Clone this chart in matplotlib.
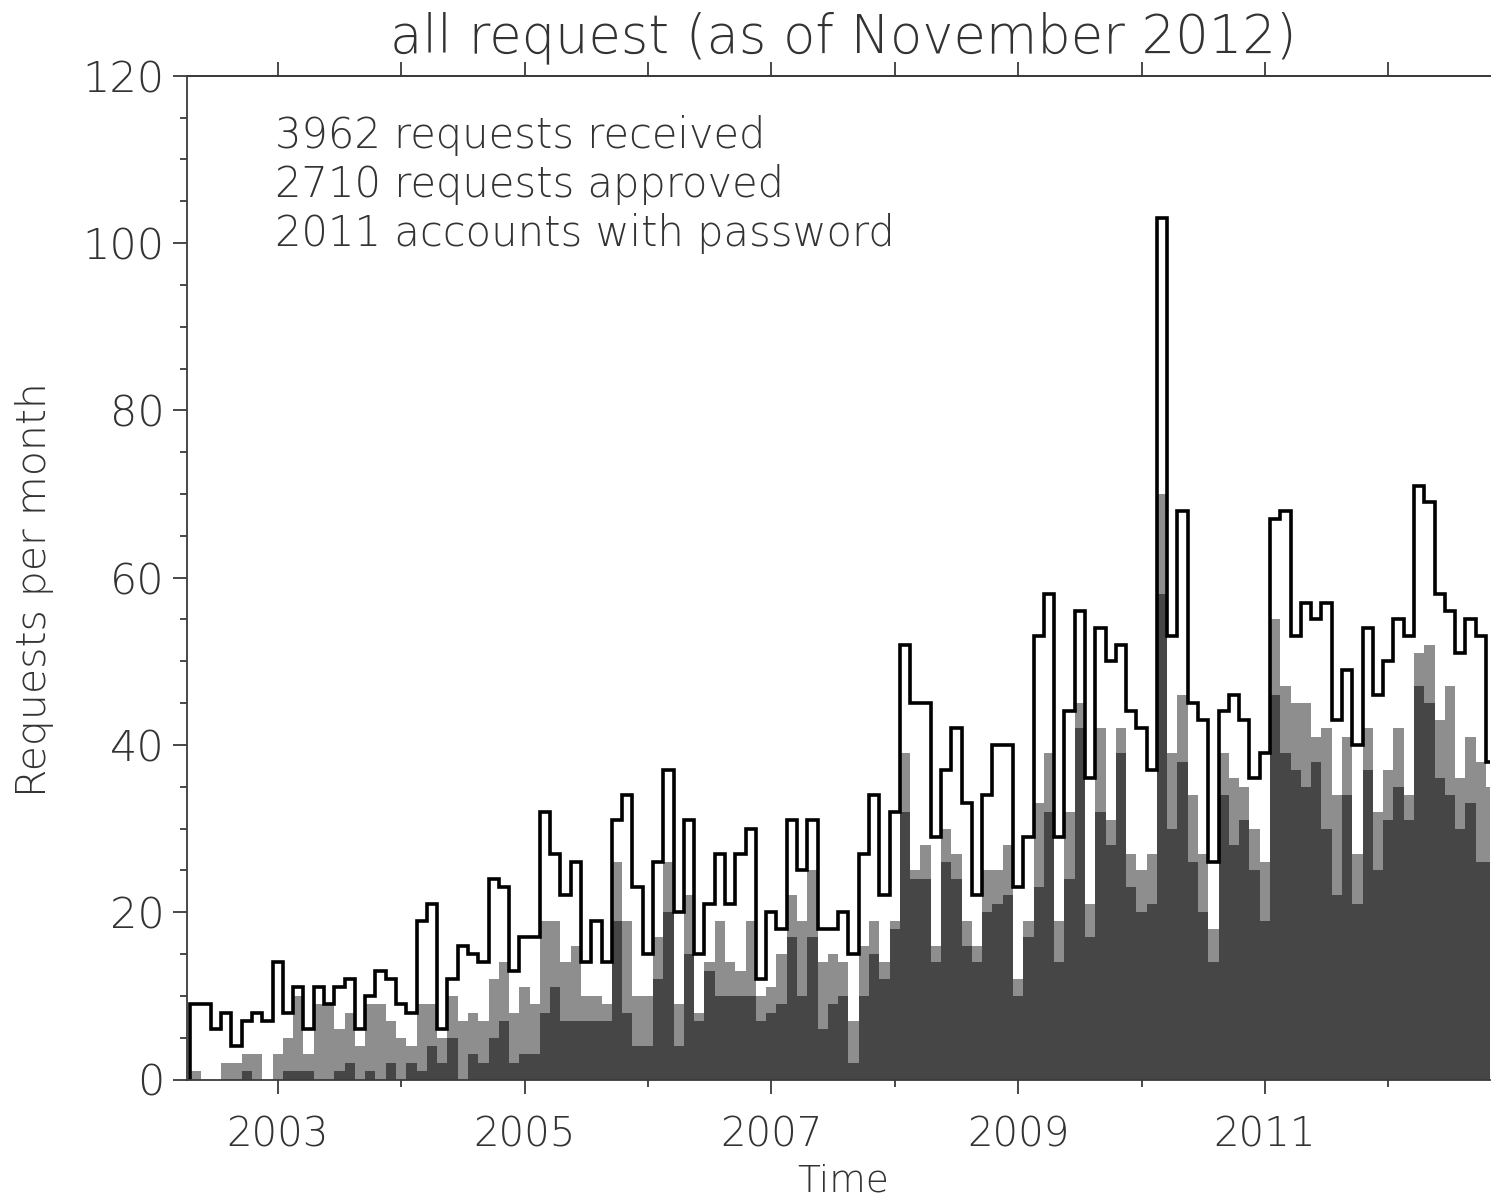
import numpy as np
import matplotlib
matplotlib.use("Agg")
import matplotlib.pyplot as plt
from matplotlib.ticker import FixedLocator, MultipleLocator, NullFormatter

# Monthly counts, May 2002 .. November 2012
start_year, start_month = 2002, 5

received = [9, 9, 6, 8, 4, 7, 8, 7,
            14, 8, 11, 6, 11, 9, 11, 12, 6, 10, 13, 12,
            9, 8, 19, 21, 6, 12, 16, 15, 14, 24, 23, 13,
            17, 17, 32, 27, 22, 26, 14, 19, 14, 31, 34, 23,
            15, 26, 37, 20, 31, 15, 21, 27, 21, 27, 30, 12,
            20, 18, 31, 25, 31, 18, 18, 20, 15, 27, 34, 22,
            32, 52, 45, 45, 29, 37, 42, 33, 22, 34, 40, 40,
            23, 29, 53, 58, 29, 44, 56, 36, 54, 50, 52, 44,
            42, 37, 103, 53, 68, 45, 43, 26, 44, 46, 43, 36,
            39, 67, 68, 53, 57, 55, 57, 43, 49, 40, 54, 46,
            50, 55, 53, 71, 69, 58, 56, 51, 55, 53, 38]

approved = [1, 0, 0, 2, 2, 3, 3, 0,
            3, 5, 10, 3, 9, 9, 6, 8, 4, 9, 9, 7,
            5, 4, 9, 9, 5, 10, 7, 8, 7, 12, 14, 8,
            11, 9, 19, 19, 14, 16, 10, 10, 9, 26, 19, 10,
            10, 17, 26, 9, 22, 8, 14, 19, 14, 13, 19, 10,
            11, 15, 22, 19, 25, 14, 15, 14, 7, 16, 19, 14,
            19, 39, 25, 28, 16, 30, 27, 19, 16, 25, 25, 28,
            12, 19, 33, 39, 19, 32, 45, 21, 42, 31, 42, 27,
            25, 27, 70, 39, 46, 34, 27, 18, 39, 36, 35, 30,
            26, 55, 47, 45, 45, 41, 42, 34, 41, 27, 42, 32,
            37, 42, 34, 51, 52, 43, 47, 36, 41, 38, 35]

password = [0, 0, 0, 0, 0, 1, 0, 0,
            0, 1, 1, 1, 0, 0, 1, 2, 0, 1, 0, 2,
            0, 2, 1, 4, 2, 5, 0, 3, 2, 5, 7, 2,
            3, 3, 8, 11, 7, 7, 7, 7, 7, 19, 8, 4,
            4, 12, 20, 4, 15, 7, 13, 10, 10, 10, 10, 7,
            8, 9, 17, 10, 17, 6, 9, 10, 2, 10, 15, 12,
            18, 32, 24, 24, 14, 26, 24, 16, 14, 20, 21, 22,
            10, 17, 23, 32, 14, 24, 42, 17, 32, 28, 39, 23,
            20, 21, 58, 30, 38, 26, 20, 14, 34, 28, 31, 25,
            19, 46, 39, 37, 35, 38, 30, 22, 34, 21, 37, 25,
            31, 35, 31, 47, 45, 36, 34, 30, 33, 26, 26]

summary_lines = ["3962 requests received",
                 "2710 requests approved",
                 "2011 accounts with password"]
title_text = "all request (as of November 2012)"
major_years = [2003, 2005, 2007, 2009, 2011]
minor_years = [2004, 2006, 2008, 2010, 2012]

# bins are one month wide, centred on the first day of each month
n = len(received)
centers = start_year + (start_month - 1) / 12.0 + np.arange(n) / 12.0
edges = np.append(centers - 1 / 24.0, centers[-1] + 1 / 24.0)

W, H = 1492, 1197
plt.rcParams['font.family'] = ['DejaVu Sans']
plt.rcParams['font.weight'] = 'light'
fig = plt.figure(figsize=(W / 100, H / 100), dpi=100)
txt_color = '#333333'
axis_color = '#3a3a3a'

x0, x1 = 187, 1490
ytop, ybot = 75.8, 1079.5
ax = fig.add_axes([x0 / W, 1 - ybot / H, (x1 - x0) / W, (ybot - ytop) / H])

ax.stairs(approved, edges, fill=True, color='#8e8e8e', baseline=0, lw=0)
ax.stairs(password, edges, fill=True, color='#464646', baseline=0, lw=0)
ax.stairs(received, edges, color='black', lw=2.6, baseline=0)

px_per_year = 123.4
ax.set_xlim(2003 + (x0 - 277.7) / px_per_year, 2003 + (x1 - 277.7) / px_per_year)
ax.set_ylim(0, 120)

ax.spines['right'].set_visible(False)
for s in ('left', 'bottom', 'top'):
    ax.spines[s].set_color(axis_color)
    ax.spines[s].set_linewidth(1.3)

ax.xaxis.set_major_locator(FixedLocator(major_years))
ax.xaxis.set_minor_locator(FixedLocator(minor_years))
ax.yaxis.set_major_locator(MultipleLocator(20))
ax.yaxis.set_minor_locator(MultipleLocator(5))
ax.tick_params(which='major', direction='out', length=10, width=1.3,
               color=axis_color, labelcolor=txt_color)
ax.tick_params(which='minor', direction='out', length=5, width=1.3,
               color=axis_color)
ax.tick_params(axis='x', which='major', labelsize=29, pad=16)
ax.tick_params(axis='y', which='major', labelsize=31, pad=6)
ax.tick_params(axis='y', which='both', right=False)
ax.set_xticklabels([str(y) for y in major_years])

top = ax.secondary_xaxis('top')
top.set_xticks(major_years + minor_years)
top.xaxis.set_major_formatter(NullFormatter())
top.tick_params(direction='out', length=10, width=1.3, color=axis_color)
top.spines['top'].set_color(axis_color)
top.spines['top'].set_linewidth(1.3)

fig.text(843 / W, 1 - 1181 / H, 'Time', ha='center', va='center',
         fontsize=27, color=txt_color)
fig.text(35 / W, 1 - 590 / H, 'Requests per month', rotation=90,
         ha='center', va='center', fontsize=29.5, color=txt_color)
fig.text(843 / W, 1 - 38 / H, title_text, ha='center', va='center',
         fontsize=38, color=txt_color)

for i, line in enumerate(summary_lines):
    fig.text(275 / W, 1 - (135 + 49.5 * i) / H, line, ha='left', va='center',
             fontsize=30, color=txt_color)

fig.savefig('out.png', dpi=100)
